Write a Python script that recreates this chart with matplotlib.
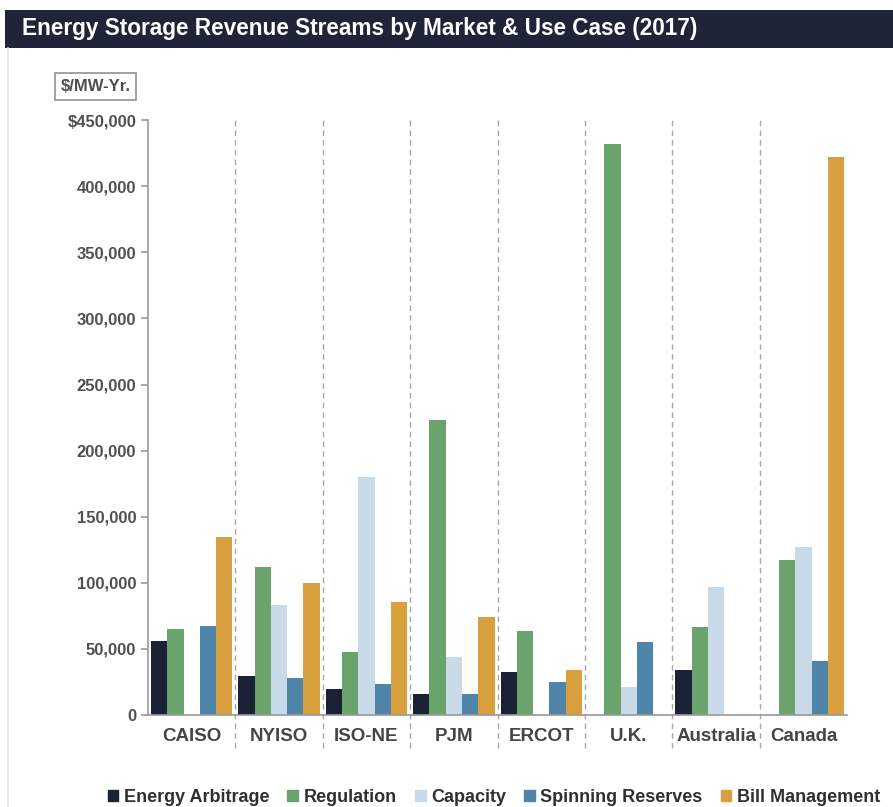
import matplotlib.pyplot as plt
import matplotlib.patches as mpatches
from matplotlib.ticker import FuncFormatter
import numpy as np

plt.rcParams['font.family'] = ['Liberation Sans', 'DejaVu Sans']

markets = ['CAISO', 'NYISO', 'ISO-NE', 'PJM', 'ERCOT', 'U.K.', 'Australia', 'Canada']
series_names = ['Energy Arbitrage', 'Regulation', 'Capacity', 'Spinning Reserves', 'Bill Management']
energy_arbitrage = [56000, 29500, 20000, 16000, 32500, 0, 34000, 0]
regulation = [65000, 112000, 48000, 223000, 63500, 432000, 66500, 117000]
capacity = [0, 83000, 180000, 44000, 0, 21000, 97000, 127000]
spinning_reserves = [67000, 28000, 23500, 16000, 25000, 55000, 0, 41000]
bill_management = [135000, 100000, 85500, 74000, 34000, 0, 0, 422000]
colors = ['#1b2236', '#6aa36c', '#c8dae8', '#4f85a9', '#d9a03f']

values = [energy_arbitrage, regulation, capacity, spinning_reserves, bill_management]

fig = plt.figure(figsize=(8.93, 8.07), dpi=100)

# faint frame on the left, as in the slide
fig.add_artist(plt.Line2D([0.009, 0.009], [0, 0.94], transform=fig.transFigure,
                          color='#e6e6e6', linewidth=1.2))

# title bar
fig.patches.append(mpatches.Rectangle((0.006, 0.9405), 0.994, 0.047, transform=fig.transFigure,
                                      facecolor='#1f2439', edgecolor='none', zorder=0))
fig.text(0.025, 0.9645, 'Energy Storage Revenue Streams by Market & Use Case (2017)',
         color='white', fontsize=16.3, fontweight='bold', va='center', ha='left')

ax = fig.add_axes([0.1657, 0.114, 0.783, 0.737])
x = np.arange(len(markets))
w = 0.186
for i, (name, vals, c) in enumerate(zip(series_names, values, colors)):
    ax.bar(x + (i - 2) * w, vals, width=w, color=c, label=name, zorder=2)

ax.set_xlim(-0.5, len(markets) - 0.5)
ax.set_ylim(0, 450000)
ax.set_yticks(np.arange(0, 450001, 50000))
ax.yaxis.set_major_formatter(FuncFormatter(lambda v, p: '$450,000' if v == 450000 else f'{int(v):,}'))
ax.set_xticks(x)
ax.set_xticklabels(markets)

for sep in x[:-1] + 0.5:
    ax.plot([sep, sep], [-0.055, 1.0], transform=ax.get_xaxis_transform(), clip_on=False,
            color='#a8a8a8', linestyle=(0, (4, 3)), linewidth=1, zorder=1)

for s in ['top', 'right']:
    ax.spines[s].set_visible(False)
for s in ['left', 'bottom']:
    ax.spines[s].set_color('#9a9a9a')
    ax.spines[s].set_linewidth(1.2)
ax.tick_params(axis='y', colors='#9a9a9a', labelcolor='#505050', labelsize=12, length=5, width=1.2)
ax.tick_params(axis='x', length=0, labelcolor='#454545', labelsize=13.5, pad=9)
for lab in ax.get_yticklabels() + ax.get_xticklabels():
    lab.set_fontweight('bold')

# unit box
fig.text(0.107, 0.893, '$/MW-Yr.', fontsize=12, fontweight='bold', color='#505050', ha='center', va='center',
         bbox=dict(boxstyle='square,pad=0.35', facecolor='white', edgecolor='#9a9a9a', linewidth=1.3))

handles = [mpatches.Patch(color=c, label=n) for n, c in zip(series_names, colors)]
fig.legend(handles=handles, loc='center', bbox_to_anchor=(0.553, 0.012), ncol=5, frameon=False,
           prop={'weight': 'bold', 'size': 13}, handlelength=0.6, handleheight=0.6,
           handletextpad=0.3, columnspacing=1.0, labelcolor='#303030')

fig.savefig('out.png', dpi=100)
